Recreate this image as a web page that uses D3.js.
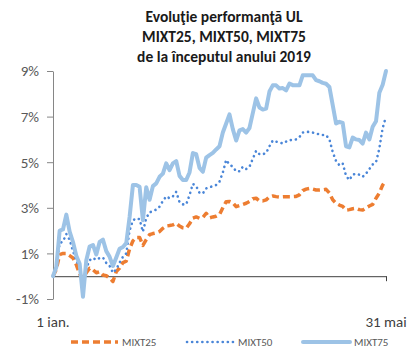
<!DOCTYPE html>
<html>
<head>
<meta charset="utf-8">
<script src="https://cdn.jsdelivr.net/npm/d3@7"></script>
<style>
  html, body { margin: 0; padding: 0; background: #fff; }
  svg { display: block; }
  text { font-family: Carlito, Lato, "Liberation Sans", sans-serif; }
</style>
</head>
<body>
<div id="chart"></div>
<script>
// Chart title (three lines)
const titleLines = ["Evoluţie performanţă UL", "MIXT25, MIXT50, MIXT75", "de la începutul anului 2019"];

// Category labels shown at the two ends of the time axis
const xLabels = ["1 ian.", "31 mai"];

// Y axis ticks (percent)
const yTicks = [-1, 1, 3, 5, 7, 9];

// Series names
const seriesNames = ["MIXT25", "MIXT50", "MIXT75"];

// Cumulative performance since start of year, % (trading days 1 Jan – 31 May 2019)
const mixt25 = [
  0, 0.3, 0.95, 1.0, 1.0, 0.9, 0.8, 0.5, 0.1, -0.1,
  0.15, 0.35, 0.28, 0.15, 0.2, 0.05, 0.02, -0.08, -0.23, 0.2,
  0.36, 0.6, 0.66, 1.2, 1.55, 1.7, 1.7, 1.35, 1.6, 1.82,
  1.87, 1.9, 1.96, 2.1, 2.2, 2.22, 2.25, 2.32, 2.2, 2.12,
  2.1, 2.3, 2.55, 2.6, 2.54, 2.58, 2.76, 2.56, 2.6, 2.63,
  2.7, 3.0, 3.27, 3.28, 3.22, 3.05, 3.1, 3.15, 3.2, 3.28,
  3.4, 3.42, 3.3, 3.3, 3.35, 3.48, 3.52, 3.49, 3.47, 3.48,
  3.49, 3.49, 3.49, 3.5, 3.57, 3.75, 3.82, 3.85, 3.82, 3.78,
  3.78, 3.79, 3.81, 3.65, 3.35, 3.2, 3.12, 3.06, 2.9, 2.92,
  2.96, 2.98, 2.92, 2.9, 3.0, 3.08, 3.15, 3.42, 3.65, 4.0,
  4.2
];

const mixt50 = [
  0, 0.4, 1.45, 1.52, 1.85, 1.6, 1.1, 0.7, 0.4, -0.3,
  0.35, 0.7, 0.8, 0.72, 0.8, 0.82, 0.58, 0.45, 0.15, 0.3,
  0.6, 0.85, 1.0, 2.0, 2.45, 2.54, 2.5, 1.95, 2.55, 2.8,
  2.85, 2.92, 3.05, 3.3, 3.5, 3.42, 3.5, 3.7, 3.25, 3.15,
  3.15, 3.56, 4.05, 3.95, 3.65, 3.63, 3.85, 3.9, 3.95, 4.0,
  4.15, 4.55, 5.1, 4.9, 4.8, 4.6, 4.6, 4.8, 4.7, 4.8,
  5.15, 5.5, 5.35, 5.35, 5.4, 5.7, 5.95, 5.9, 5.87, 5.82,
  5.9, 5.97, 5.97, 6.0, 6.1, 6.3, 6.33, 6.33, 6.3, 6.26,
  6.22, 6.19, 6.19, 6.0, 5.45, 5.05, 4.87, 4.95, 4.4, 4.22,
  4.45, 4.5, 4.45, 4.36, 4.5, 4.7, 4.9, 5.0, 5.6, 6.5,
  7.0
];

const mixt75 = [
  0, 0.4, 2.0, 2.05, 2.7, 1.95, 1.5, 0.9, 0.55, -0.9,
  0.7, 1.3, 1.37, 0.95, 1.5, 1.6, 1.1, 0.85, 0.45, 0.82,
  1.2, 1.28, 1.45, 2.6, 4.0, 4.0, 3.92, 2.45, 3.9, 3.35,
  3.95, 4.07, 4.36, 4.5, 4.95, 4.65, 4.95, 5.05, 4.4, 4.22,
  4.22, 4.55, 5.4, 5.35, 4.75, 4.58, 5.2, 5.31, 5.41, 5.56,
  5.7, 6.3, 6.7, 7.1, 6.45, 5.95, 6.4, 6.45, 6.3, 6.5,
  7.15, 7.8, 7.4, 7.31, 7.35, 8.1, 8.37, 8.37, 8.23, 8.25,
  8.15, 8.45, 8.38, 8.37, 8.37, 8.81, 8.81, 8.81, 8.81, 8.6,
  8.55, 8.48, 8.44, 8.3, 7.5, 6.7, 6.77, 6.72, 5.7, 5.65,
  6.08, 6.0, 5.97, 5.82, 6.3, 6.0, 6.55, 6.8, 8.05, 8.4,
  9.0
];

const W = 409, H = 349;
const plot = { left: 53, right: 386, top: 71, bottom: 299 };

const colors = { MIXT25: "#ED7D31", MIXT50: "#4A86D8", MIXT75: "#9DC3E6" };

const svg = d3.select("#chart").append("svg")
  .attr("width", W).attr("height", H);

const n = mixt75.length;
const x = d3.scaleLinear().domain([0, n - 1]).range([plot.left, plot.right]);
const y = d3.scaleLinear().domain([-1, 9]).range([plot.bottom, plot.top]);

// Title
const title = svg.append("text")
  .attr("x", 224).attr("y", 22)
  .attr("text-anchor", "middle")
  .attr("font-size", 15.5).attr("font-weight", "bold")
  .attr("fill", "#1a1a1a");
titleLines.forEach((t, i) => {
  title.append("tspan").attr("x", 224).attr("dy", i === 0 ? 0 : 20).text(t);
});

// Y axis
const yAxis = svg.append("g")
  .attr("transform", `translate(${plot.left},0)`)
  .call(d3.axisLeft(y).tickValues(yTicks).tickSize(6).tickSizeOuter(0)
    .tickFormat(d => d + "%"));
yAxis.select(".domain").attr("stroke", "#868686");
yAxis.selectAll(".tick line").attr("stroke", "#868686");
yAxis.selectAll(".tick text")
  .attr("x", -14)
  .attr("font-size", 15)
  .attr("font-family", "Carlito, Lato, 'Liberation Sans', sans-serif")
  .attr("fill", "#595959");

// Horizontal axis at 0%
const xAxis = svg.append("g")
  .attr("transform", `translate(0,${y(0)})`)
  .call(d3.axisBottom(x).tickValues([n - 1]).tickSize(5).tickSizeOuter(0).tickFormat(""));
xAxis.select(".domain").attr("stroke", "#404040");
xAxis.selectAll(".tick line").attr("stroke", "#404040");

// End labels of the time axis
svg.append("g").selectAll("text")
  .data(xLabels)
  .join("text")
  .attr("x", (d, i) => x(i === 0 ? 0 : n - 1))
  .attr("y", 327)
  .attr("text-anchor", "middle")
  .attr("font-size", 15)
  .attr("fill", "#404040")
  .text(d => d);

// Lines
const line = d3.line().x((d, i) => x(i)).y(d => y(d)).curve(d3.curveLinear);

const series = [
  { name: "MIXT25", values: mixt25, width: 3.5, dash: "7,4", cap: "butt" },
  { name: "MIXT50", values: mixt50, width: 2.6, dash: "0.1,5", cap: "round" },
  { name: "MIXT75", values: mixt75, width: 4, dash: null, cap: "round" }
];

svg.append("g").selectAll("path")
  .data(series)
  .join("path")
  .attr("d", d => line(d.values))
  .attr("fill", "none")
  .attr("stroke", d => colors[d.name])
  .attr("stroke-width", d => d.width)
  .attr("stroke-dasharray", d => d.dash)
  .attr("stroke-linecap", d => d.cap)
  .attr("stroke-linejoin", "round");

// Legend
const legendX = [71, 187, 303];
const legend = svg.append("g");
series.forEach((s, i) => {
  legend.append("line")
    .attr("x1", legendX[i]).attr("x2", legendX[i] + 47)
    .attr("y1", 342).attr("y2", 342)
    .attr("stroke", colors[s.name])
    .attr("stroke-width", s.width)
    .attr("stroke-dasharray", s.dash)
    .attr("stroke-linecap", s.cap);
  legend.append("text")
    .attr("x", legendX[i] + 51).attr("y", 346)
    .attr("font-size", 11)
    .attr("fill", "#595959")
    .text(s.name);
});
</script>
</body>
</html>
